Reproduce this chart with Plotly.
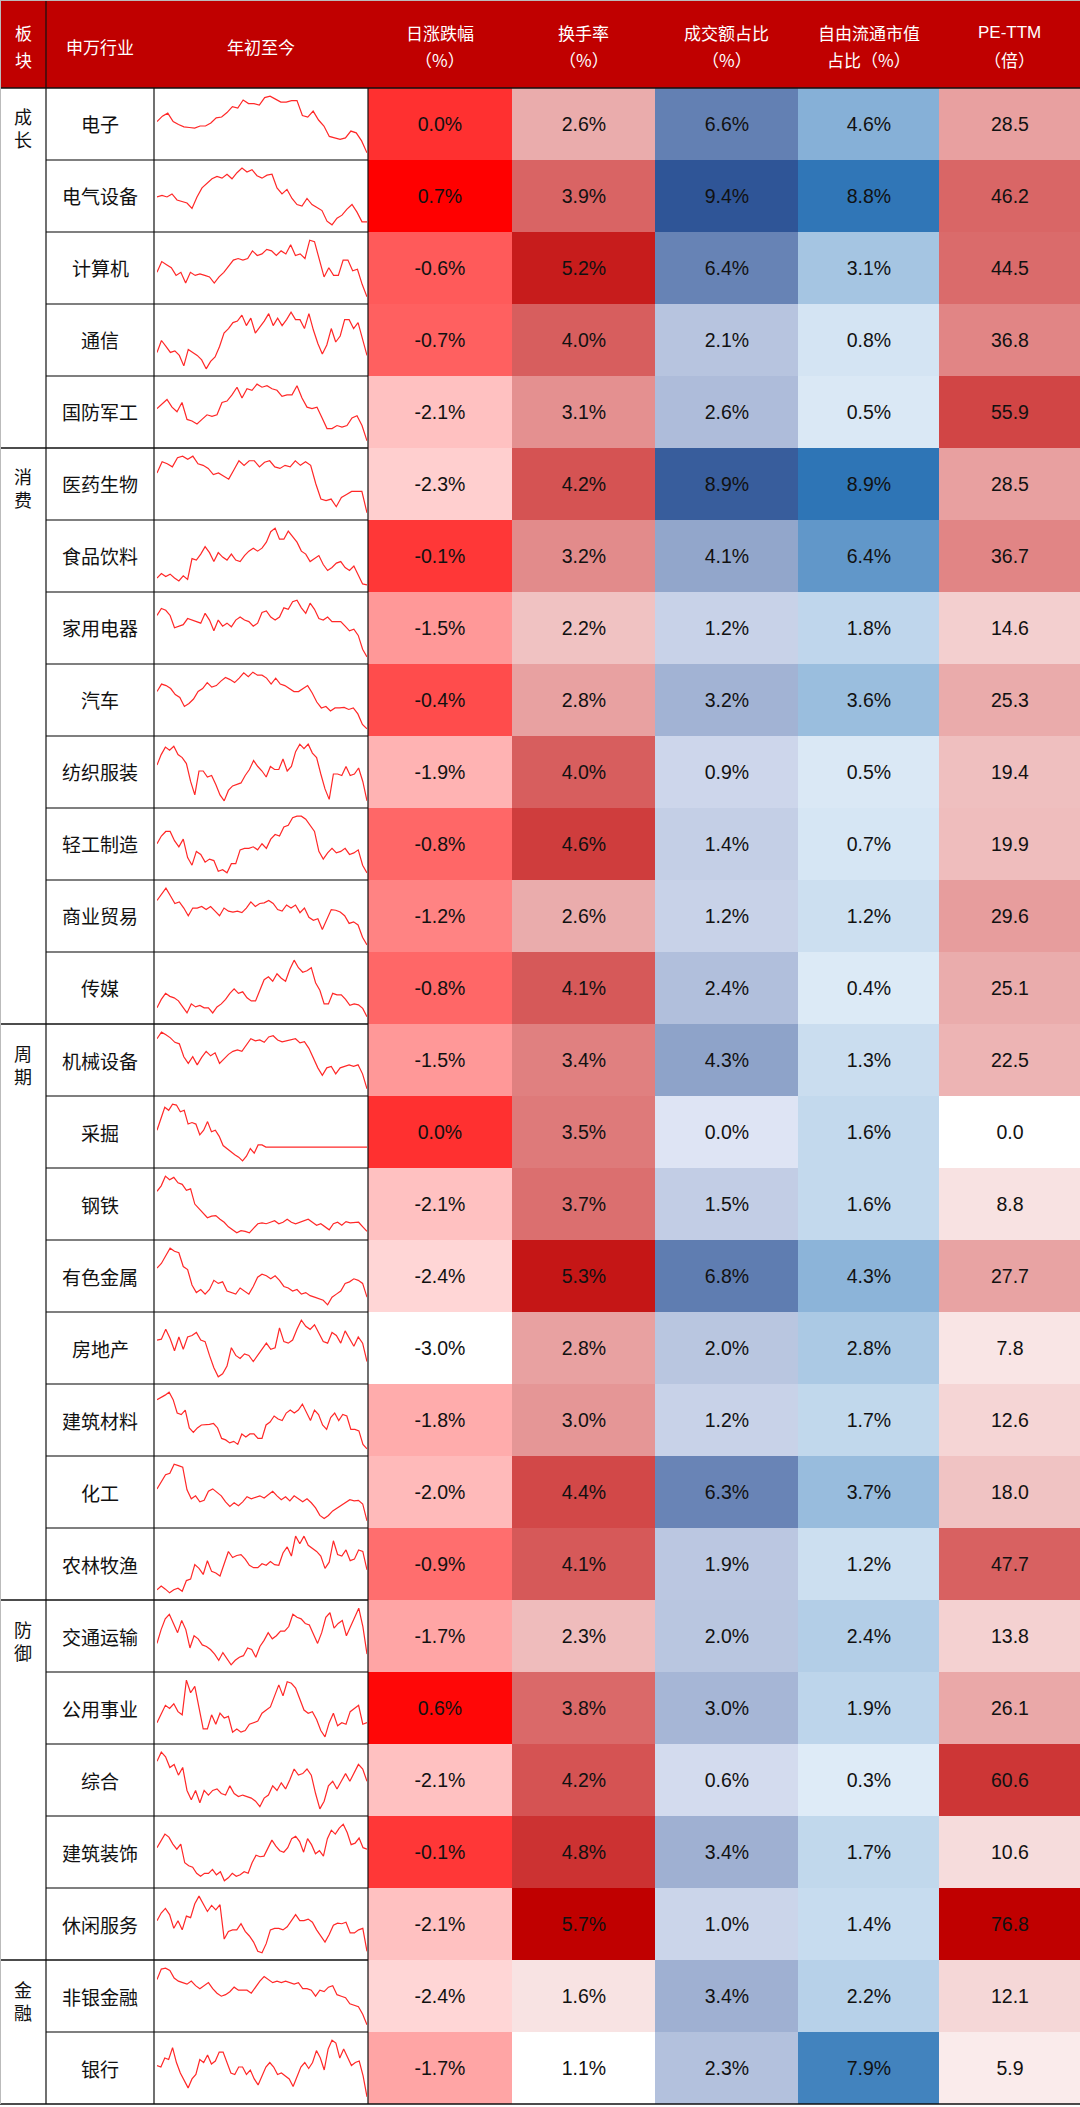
import plotly.graph_objects as go

W, H = 1080, 2107
HEADER_H = 88
ROW_H = 72
COLS = [0, 46, 154, 368, 512, 655, 798, 939, 1080]

sectors = ["成长", "消费", "周期", "防御", "金融"]
sector_sizes = [5, 8, 8, 5, 2]

industries = ["电子", "电气设备", "计算机", "通信", "国防军工",
              "医药生物", "食品饮料", "家用电器", "汽车", "纺织服装", "轻工制造", "商业贸易", "传媒",
              "机械设备", "采掘", "钢铁", "有色金属", "房地产", "建筑材料", "化工", "农林牧渔",
              "交通运输", "公用事业", "综合", "建筑装饰", "休闲服务",
              "非银金融", "银行"]

daily_chg = [0.0, 0.7, -0.6, -0.7, -2.1, -2.3, -0.1, -1.5, -0.4, -1.9, -0.8, -1.2, -0.8,
             -1.5, 0.0, -2.1, -2.4, -3.0, -1.8, -2.0, -0.9, -1.7, 0.6, -2.1, -0.1, -2.1, -2.4, -1.7]
turnover = [2.6, 3.9, 5.2, 4.0, 3.1, 4.2, 3.2, 2.2, 2.8, 4.0, 4.6, 2.6, 4.1,
            3.4, 3.5, 3.7, 5.3, 2.8, 3.0, 4.4, 4.1, 2.3, 3.8, 4.2, 4.8, 5.7, 1.6, 1.1]
amount_share = [6.6, 9.4, 6.4, 2.1, 2.6, 8.9, 4.1, 1.2, 3.2, 0.9, 1.4, 1.2, 2.4,
                4.3, 0.0, 1.5, 6.8, 2.0, 1.2, 6.3, 1.9, 2.0, 3.0, 0.6, 3.4, 1.0, 3.4, 2.3]
float_share = [4.6, 8.8, 3.1, 0.8, 0.5, 8.9, 6.4, 1.8, 3.6, 0.5, 0.7, 1.2, 0.4,
               1.3, 1.6, 1.6, 4.3, 2.8, 1.7, 3.7, 1.2, 2.4, 1.9, 0.3, 1.7, 1.4, 2.2, 7.9]
pe_ttm = [28.5, 46.2, 44.5, 36.8, 55.9, 28.5, 36.7, 14.6, 25.3, 19.4, 19.9, 29.6, 25.1,
          22.5, 0.0, 8.8, 27.7, 7.8, 12.6, 18.0, 47.7, 13.8, 26.1, 60.6, 10.6, 76.8, 12.1, 5.9]

# year-to-date index paths (relative levels read from the sparklines)
ytd = [
    [116,134,144,116,106,98,96,94,101,101,111,128,131,146,166,161,188,176,176,171,196,201,191,181,181,186,186,136,131,151,121,101,66,61,56,61,84,78,51,11],
    [102,107,102,112,92,87,82,64,102,132,147,162,170,164,177,162,182,197,184,192,172,164,174,177,132,112,127,97,77,72,97,77,67,57,22,10,32,42,62,77,52,20,20],
    [88,123,113,103,78,88,53,88,78,83,78,73,53,73,88,108,128,133,128,133,158,143,148,163,158,143,158,148,178,143,148,133,193,188,133,73,103,78,78,128,128,93,98,48,8],
    [64,104,84,64,69,54,19,74,64,54,39,9,34,49,84,129,144,164,169,189,154,179,129,149,169,194,154,179,154,174,199,174,174,144,194,139,94,59,89,144,99,119,174,174,144,164,104,54],
    [115,130,145,120,105,135,80,75,65,80,95,90,95,135,140,160,185,150,180,175,195,185,190,180,175,155,160,160,190,150,120,115,120,85,50,50,60,55,60,85,92,60,10],
    [141,178,171,161,191,196,186,196,171,166,156,136,141,131,121,151,181,166,181,181,161,176,181,161,156,166,161,181,166,178,166,106,56,51,56,31,61,71,81,81,81,11],
    [31,46,36,44,31,21,38,26,96,91,111,136,116,86,116,101,91,111,91,86,106,121,131,121,131,151,186,198,161,161,188,171,151,121,111,86,96,106,76,56,66,81,86,66,56,71,41,11,8],
    [147,170,164,147,107,112,117,137,132,127,122,154,132,97,132,112,122,110,132,142,132,127,112,122,157,162,142,132,142,172,167,192,197,172,154,187,167,137,132,142,127,127,127,112,97,102,82,37,12],
    [133,158,153,143,123,113,83,93,108,133,143,163,148,153,168,180,173,163,178,196,183,198,188,188,178,158,178,158,153,143,133,133,143,153,128,98,78,83,68,78,78,80,73,78,58,23,8],
    [129,164,189,179,192,164,154,134,74,29,109,109,89,94,64,29,9,44,59,64,69,94,114,144,124,109,89,124,114,114,149,109,124,174,199,184,199,169,154,99,49,14,99,99,94,124,94,99,119,74,9],
    [105,130,145,145,115,95,120,60,35,80,70,45,55,50,15,20,10,40,40,85,90,90,95,85,105,90,120,135,130,160,165,190,195,195,185,165,145,80,55,75,90,75,80,90,70,75,85,35,10],
    [156,176,196,171,146,151,131,106,131,131,136,126,136,121,106,131,121,118,121,116,131,151,136,146,148,156,146,126,121,141,131,141,116,131,101,91,96,61,96,126,124,118,106,81,86,76,36,11],
    [38,66,86,76,71,61,41,21,51,41,46,38,38,21,41,51,66,86,101,86,91,71,61,61,96,131,141,126,151,136,126,166,196,171,156,161,171,121,96,51,51,86,81,81,66,46,51,48,36,8],
    [174,196,187,177,162,157,114,92,114,87,112,132,117,127,92,107,122,132,137,132,154,174,167,170,162,180,184,170,164,167,170,174,160,164,142,110,77,52,77,82,57,77,82,87,82,87,57,7],
    [108,148,183,173,193,190,168,173,128,133,128,93,108,136,103,108,88,58,48,36,28,20,8,23,48,33,60,60,53,
     53,53,53,53,53,53,53,53,53,53,53,53,53,53,53,53,53,53,53,53,53,53,53,53,53,53],
    [146,164,196,184,192,174,169,149,154,104,89,74,59,64,66,54,44,29,19,9,16,14,9,24,39,42,39,44,49,39,44,54,44,39,44,49,54,44,34,39,29,19,39,44,34,46,42,42,44,29,14],
    [130,145,170,195,185,180,135,125,75,50,60,45,60,90,80,85,55,50,45,65,55,45,70,100,110,105,95,105,90,70,65,55,60,45,50,40,35,30,25,10,35,45,55,80,85,95,90,80,35],
    [131,134,166,136,96,141,101,141,146,156,131,126,81,41,11,21,46,106,81,71,86,81,61,81,101,121,101,106,171,126,121,131,166,196,176,166,181,156,126,121,156,146,121,161,136,111,141,121,61],
    [171,178,186,196,171,126,121,136,76,61,76,86,86,88,91,76,41,36,26,31,21,56,46,56,56,41,41,86,96,116,106,101,126,136,126,136,156,131,101,136,121,86,71,111,126,101,121,116,71,71,66,21,6],
    [110,132,157,162,192,187,182,107,77,87,67,72,102,110,97,87,67,52,64,54,67,84,77,82,87,80,92,102,87,74,84,70,87,77,67,77,64,47,22,12,22,37,47,57,67,74,70,72,60,4],
    [18,30,20,8,18,23,13,48,53,100,88,68,113,78,73,63,103,143,123,130,133,118,98,90,90,103,98,110,100,98,138,158,128,193,168,193,163,153,143,128,88,108,178,133,128,148,113,118,148,143,83],
    [79,124,159,174,144,114,154,124,64,104,94,74,69,59,44,24,49,29,9,24,34,39,64,59,34,69,89,114,94,104,119,119,134,174,164,159,144,139,109,79,114,164,179,129,144,154,104,134,164,194,134,44],
    [55,80,110,100,115,90,80,190,150,170,105,35,35,80,50,85,70,75,25,35,25,30,50,55,60,85,95,105,140,175,140,185,180,165,130,95,85,90,65,30,10,55,85,45,55,50,90,100,110,50,55],
    [166,196,181,146,156,121,146,71,41,71,31,71,56,71,76,61,56,86,61,51,56,51,46,36,18,46,56,86,71,96,76,106,141,121,126,141,121,61,11,36,86,101,76,101,126,101,131,156,141,101],
    [116,141,161,151,128,111,128,66,56,51,31,21,31,31,44,26,36,6,16,31,21,26,36,31,66,91,86,88,116,141,121,106,101,116,146,154,136,101,146,126,96,106,88,146,174,161,181,194,166,126,131,148,116,111],
    [112,137,152,132,87,112,82,127,122,167,192,167,142,162,147,164,52,77,82,82,102,77,62,42,12,7,37,82,87,87,82,92,112,132,112,112,117,107,82,64,42,67,97,104,102,107,72,72,82,87,12],
    [158,193,196,188,163,153,148,143,153,138,128,138,148,128,113,103,108,118,133,123,123,123,113,133,153,168,158,148,153,148,153,148,143,148,128,128,123,103,123,118,133,138,108,103,98,78,73,68,43,8],
    [109,104,134,129,169,119,84,59,34,64,79,129,119,144,114,124,154,154,119,84,79,104,104,79,94,64,44,74,104,119,104,79,84,74,64,39,74,104,119,99,119,159,134,94,164,194,184,134,164,139,109,119,124,74,4],
]

header_main = ["板", "申万行业", "年初至今", "日涨跌幅", "换手率", "成交额占比", "自由流通市值", "PE-TTM"]
header_sub = ["块", "", "", "（%）", "（%）", "（%）", "占比（%）", "（倍）"]

heat_cols = [
    (daily_chg, "%", ["#FFFFFF", "#FF0000"]),
    (turnover, "%", ["#FFFFFF", "#C00000"]),
    (amount_share, "%", ["#DEE4F4", "#2F5597"]),
    (float_share, "%", ["#DEEBF7", "#2E75B6"]),
    (pe_ttm, "", ["#FFFFFF", "#C00000"]),
]

N = len(industries)
CJK = "Noto Sans CJK SC"
LAT = "Liberation Sans, Arial, Noto Sans CJK SC"


def py(p):
    return 1 - p / H


def px(p):
    return p / W


fig = go.Figure()
layout = {}

# heatmap columns
for j, (vals, suffix, cols) in enumerate(heat_cols):
    xname = "x" if j == 0 else f"x{j + 1}"
    xkey = "xaxis" if j == 0 else f"xaxis{j + 1}"
    fig.add_trace(go.Heatmap(
        z=[[v] for v in vals], x=[0], y=list(range(N)),
        text=[[f"{v:.1f}{suffix}"] for v in vals], texttemplate="%{text}",
        textfont=dict(family=LAT, size=19.5, color="#111111"),
        colorscale=[[0, cols[0]], [1, cols[1]]], zmin=min(vals), zmax=max(vals),
        showscale=False, hoverinfo="skip", xgap=0, ygap=0,
        xaxis=xname, yaxis="y"))
    layout[xkey] = dict(domain=[px(COLS[3 + j]), px(COLS[4 + j])], range=[-0.5, 0.5],
                        visible=False, anchor="y", fixedrange=True)
layout["yaxis"] = dict(domain=[py(HEADER_H + N * ROW_H), py(HEADER_H)], range=[N - 0.5, -0.5],
                       visible=False, anchor="x", fixedrange=True)

# sparklines
for k in range(N):
    xi, yi = 6 + k, 2 + k
    top = HEADER_H + k * ROW_H + 5
    bot = HEADER_H + (k + 1) * ROW_H - 4
    fig.add_trace(go.Scatter(y=ytd[k], mode="lines", line=dict(color="rgb(255,40,40)", width=1.2),
                             hoverinfo="skip", xaxis=f"x{xi}", yaxis=f"y{yi}", showlegend=False))
    layout[f"xaxis{xi}"] = dict(domain=[px(157), px(367)], visible=False, anchor=f"y{yi}", fixedrange=True)
    layout[f"yaxis{yi}"] = dict(domain=[py(bot), py(top)], visible=False, anchor=f"x{xi}", fixedrange=True)

shapes = []
annotations = []

# header background
shapes.append(dict(type="rect", xref="paper", yref="paper", x0=0, x1=1, y0=py(HEADER_H), y1=1,
                   fillcolor="#C00000", line=dict(width=0), layer="below"))

# header texts
hdr_centers = [(COLS[i] + COLS[i + 1]) / 2 for i in range(8)]
for i in range(8):
    fam = LAT if header_main[i] == "PE-TTM" else CJK
    if header_sub[i]:
        annotations.append(dict(text=header_main[i], x=px(hdr_centers[i]), y=py(33), xref="paper", yref="paper",
                                showarrow=False, xanchor="center", yanchor="middle",
                                font=dict(family=fam, size=17, color="white")))
        annotations.append(dict(text=header_sub[i], x=px(hdr_centers[i]), y=py(60), xref="paper", yref="paper",
                                showarrow=False, xanchor="center", yanchor="middle",
                                font=dict(family=CJK, size=17, color="white")))
    else:
        annotations.append(dict(text=header_main[i], x=px(hdr_centers[i]), y=py(46), xref="paper", yref="paper",
                                showarrow=False, xanchor="center", yanchor="middle",
                                font=dict(family=CJK, size=17, color="white")))

# industry names
for k, name in enumerate(industries):
    cy = HEADER_H + k * ROW_H + ROW_H / 2
    annotations.append(dict(text=name, x=px(100), y=py(cy), xref="paper", yref="paper", showarrow=False,
                            xanchor="center", yanchor="middle",
                            font=dict(family=CJK, size=19, color="#111111")))

# sector labels and section lines
start = 0
for s, size in zip(sectors, sector_sizes):
    cy = HEADER_H + start * ROW_H + ROW_H / 2 + 4
    annotations.append(dict(text=s[0] + "<br>" + s[1], x=px(23), y=py(cy), xref="paper", yref="paper",
                            showarrow=False, xanchor="center", yanchor="middle",
                            font=dict(family=CJK, size=18, color="#111111")))
    for r in range(1, size):
        yy = HEADER_H + (start + r) * ROW_H
        shapes.append(dict(type="line", xref="paper", yref="paper", x0=px(46), x1=px(368), y0=py(yy), y1=py(yy),
                           line=dict(color="#555555", width=1.5), layer="above"))
    start += size
    yy = HEADER_H + start * ROW_H
    shapes.append(dict(type="line", xref="paper", yref="paper", x0=0, x1=px(368) if start < N else 1,
                       y0=py(yy), y1=py(yy), line=dict(color="#111111", width=1.5), layer="above"))

# header bottom line
shapes.append(dict(type="line", xref="paper", yref="paper", x0=0, x1=1, y0=py(HEADER_H), y1=py(HEADER_H),
                   line=dict(color="#111111", width=1.5), layer="above"))
# vertical lines
bottom = HEADER_H + N * ROW_H
shapes.append(dict(type="line", xref="paper", yref="paper", x0=px(46), x1=px(46), y0=py(0), y1=py(bottom),
                   line=dict(color="#111111", width=1.2), layer="above"))
for xv in (154, 368):
    shapes.append(dict(type="line", xref="paper", yref="paper", x0=px(xv), x1=px(xv), y0=py(HEADER_H),
                       y1=py(bottom), line=dict(color="#111111", width=1.2), layer="above"))
# outer light border
shapes.append(dict(type="line", xref="paper", yref="paper", x0=px(0.5), x1=px(0.5), y0=py(0), y1=py(bottom),
                   line=dict(color="#BBBBBB", width=1), layer="above"))
shapes.append(dict(type="line", xref="paper", yref="paper", x0=0, x1=1, y0=py(0.5), y1=py(0.5),
                   line=dict(color="#BBBBBB", width=1), layer="above"))

fig.update_layout(
    width=W, height=H, margin=dict(l=0, r=0, t=0, b=0),
    paper_bgcolor="white", plot_bgcolor="rgba(0,0,0,0)",
    showlegend=False, shapes=shapes, annotations=annotations, **layout)

fig.write_html("out.html", config={"displayModeBar": False, "staticPlot": True},
               post_script="document.body.style.margin='0';document.body.style.overflow='hidden';")
